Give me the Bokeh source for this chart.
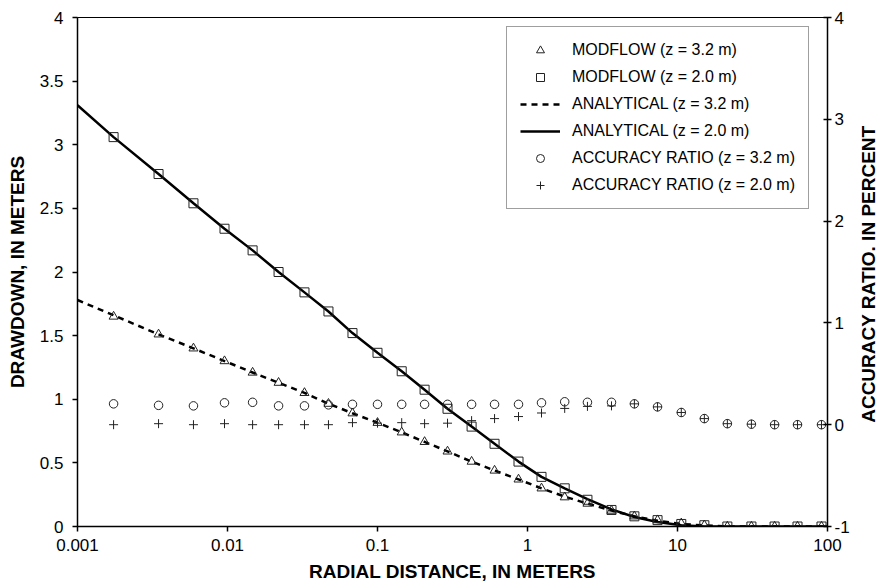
import math
from bokeh.plotting import figure
from bokeh.layouts import row
from bokeh.models import (Range1d, LinearAxis, FixedTicker, CustomJSTickFormatter,
                          Legend, LegendItem, Label)
from bokeh.embed import file_html
from bokeh.resources import INLINE

# ---- data ----
radial = [0.00174, 0.00347, 0.00593, 0.00955, 0.0147, 0.0219, 0.0326, 0.0471, 0.0681,
          0.1, 0.145, 0.206, 0.293, 0.424, 0.603, 0.871, 1.24, 1.77, 2.51, 3.63,
          5.16, 7.36, 10.6, 15.1, 21.5, 31.1, 44.4, 63.1, 91.2]
modflow_32 = [1.65, 1.51, 1.40, 1.30, 1.21, 1.13, 1.05, 0.965, 0.89, 0.815, 0.74, 0.665,
              0.59, 0.51, 0.44, 0.37, 0.30, 0.23, 0.18, 0.125, 0.08, 0.05, 0.025, 0.01,
              0.0, 0.0, 0.0, 0.0, 0.0]
modflow_20 = [3.06, 2.77, 2.54, 2.34, 2.17, 2.0, 1.84, 1.69, 1.52, 1.365, 1.22, 1.075,
              0.925, 0.785, 0.65, 0.51, 0.39, 0.30, 0.21, 0.13, 0.08, 0.05, 0.02, 0.01,
              0.0, 0.0, 0.0, 0.0, 0.0]
radial_an = [0.001, 0.00174, 0.00347, 0.00593, 0.00955, 0.0147, 0.0219, 0.0326, 0.0471,
             0.0681, 0.1, 0.145, 0.206, 0.293, 0.424, 0.603, 0.871, 1.24, 1.77, 2.51,
             3.63, 5.16, 7.36, 10.6, 15.1, 21.5, 31.1, 44.4, 63.1, 100.0]
analytical_32 = [1.78, 1.66, 1.51, 1.40, 1.30, 1.21, 1.13, 1.05, 0.965, 0.89, 0.815, 0.74,
                 0.665, 0.59, 0.51, 0.44, 0.37, 0.30, 0.235, 0.18, 0.125, 0.08, 0.045,
                 0.02, 0.008, 0.0, 0.0, 0.0, 0.0, 0.0]
analytical_20 = [3.31, 3.06, 2.77, 2.54, 2.34, 2.17, 2.0, 1.84, 1.69, 1.52, 1.365, 1.22,
                 1.075, 0.925, 0.785, 0.65, 0.51, 0.39, 0.30, 0.215, 0.135, 0.075, 0.035,
                 0.01, 0.0, 0.0, 0.0, 0.0, 0.0, 0.0]
accuracy_32 = [0.205, 0.19, 0.185, 0.215, 0.22, 0.185, 0.185, 0.195, 0.2, 0.2, 0.2, 0.2,
               0.2, 0.2, 0.2, 0.2, 0.215, 0.225, 0.22, 0.22, 0.205, 0.175, 0.12, 0.06,
               0.01, 0.005, 0.0, 0.0, 0.0]
accuracy_20 = [0.0, 0.01, 0.0, 0.01, 0.0, 0.0, 0.0, 0.0, 0.02, 0.015, 0.02, 0.01, 0.015,
               0.04, 0.06, 0.08, 0.115, 0.16, 0.18, 0.185, 0.205, 0.175, 0.12, 0.06,
               0.01, 0.005, 0.0, 0.0, 0.0]
x_ticks = [0.001, 0.01, 0.1, 1, 10, 100]
y_ticks = [0, 0.5, 1, 1.5, 2, 2.5, 3, 3.5, 4]
y2_ticks = [-1, 0, 1, 2, 3, 4]
right_label = "ACCURACY RATIO. IN  PERCENT"

FONT = "Liberation Sans"

p = figure(width=852, height=584, x_axis_type="log",
           x_range=Range1d(0.001, 100), y_range=Range1d(0, 4),
           output_backend="svg", toolbar_location=None,
           min_border_left=77, min_border_right=24, min_border_top=17,
           min_border_bottom=57)
p.extra_y_ranges = {"acc": Range1d(-1, 4)}
p.xgrid.visible = False
p.ygrid.visible = False
p.outline_line_color = "black"
p.outline_line_width = 1
p.background_fill_color = "white"
p.border_fill_color = "white"

def style_axis(ax, ticks, label, tin, tout, standoff, lstandoff):
    ax.ticker = FixedTicker(ticks=ticks, minor_ticks=[])
    ax.formatter = CustomJSTickFormatter(code="return String(Number(tick.toPrecision(3)));")
    ax.axis_label = label
    ax.axis_label_text_font = FONT
    ax.axis_label_text_font_style = "bold"
    ax.axis_label_text_font_size = "19px"
    ax.axis_label_text_color = "black"
    ax.axis_label_standoff = lstandoff
    ax.major_label_text_font = FONT
    ax.major_label_text_font_size = "17px"
    ax.major_label_text_color = "black"
    ax.major_label_standoff = standoff
    ax.major_tick_in = tin
    ax.major_tick_out = tout
    ax.minor_tick_line_color = None
    ax.axis_line_color = "black"
    ax.axis_line_width = 1.5
    ax.major_tick_line_color = "black"
    ax.major_tick_line_width = 1.5

style_axis(p.xaxis[0], x_ticks, "RADIAL DISTANCE, IN METERS", 0, 5, 7, 7)
style_axis(p.yaxis[0], y_ticks, "DRAWDOWN, IN METERS", 0, 5, 9, 9)
right = LinearAxis(y_range_name="acc")
style_axis(right, y2_ticks, None, 4, 4, 3, 8)
p.add_layout(right, "right")

r_an32 = p.line(radial_an, analytical_32, line_color="black", line_width=2.5, line_dash="6 5")
r_an20 = p.line(radial_an, analytical_20, line_color="black", line_width=2.5)
r_m32 = p.scatter(radial, modflow_32, marker="triangle", size=9, line_color="#222222",
                  fill_color=None, line_width=1)
r_m20 = p.scatter(radial, modflow_20, marker="square", size=9, line_color="#222222",
                  fill_color=None, line_width=1)
r_a32 = p.scatter(radial, accuracy_32, marker="circle", size=8.5, line_color="#222222",
                  fill_color=None, line_width=1, y_range_name="acc")
r_a20 = p.scatter(radial, accuracy_20, marker="cross", size=9, line_color="#222222",
                  line_width=1, y_range_name="acc")

legend = Legend(items=[
    LegendItem(label="MODFLOW (z = 3.2 m)", renderers=[r_m32]),
    LegendItem(label="MODFLOW (z = 2.0 m)", renderers=[r_m20]),
    LegendItem(label="ANALYTICAL (z = 3.2 m)", renderers=[r_an32]),
    LegendItem(label="ANALYTICAL (z = 2.0 m)", renderers=[r_an20]),
    LegendItem(label="ACCURACY RATIO (z = 3.2 m)", renderers=[r_a32]),
    LegendItem(label="ACCURACY RATIO (z = 2.0 m)", renderers=[r_a20]),
], location=(429, 317))
legend.label_text_font = FONT
legend.label_text_font_size = "16px"
legend.label_text_color = "black"
legend.label_height = 20
legend.glyph_height = 20
legend.glyph_width = 40
legend.label_standoff = 12
legend.spacing = 7
legend.padding = 13
legend.margin = 0
legend.border_line_color = "#404040"
legend.border_line_width = 1
legend.background_fill_color = "white"
legend.background_fill_alpha = 1.0
p.add_layout(legend)

# narrow strip on the right carrying the right-axis title (reads bottom to top)
p2 = figure(width=28, height=584, output_backend="svg", toolbar_location=None,
            x_range=Range1d(0, 1), y_range=Range1d(0, 1),
            x_axis_location=None, y_axis_location=None,
            min_border_left=0, min_border_right=0, min_border_top=17,
            min_border_bottom=57)
p2.grid.visible = False
p2.outline_line_color = None
p2.background_fill_color = "white"
p2.border_fill_color = "white"
rl = Label(x=16, y=255, x_units="screen", y_units="screen", text=right_label,
           angle=math.pi / 2, text_align="center", text_baseline="middle",
           text_font=FONT, text_font_style="bold", text_font_size="19px",
           text_color="black")
p2.add_layout(rl)

layout = row(p, p2, spacing=0)
open("out.html", "w").write(file_html(layout, INLINE))
